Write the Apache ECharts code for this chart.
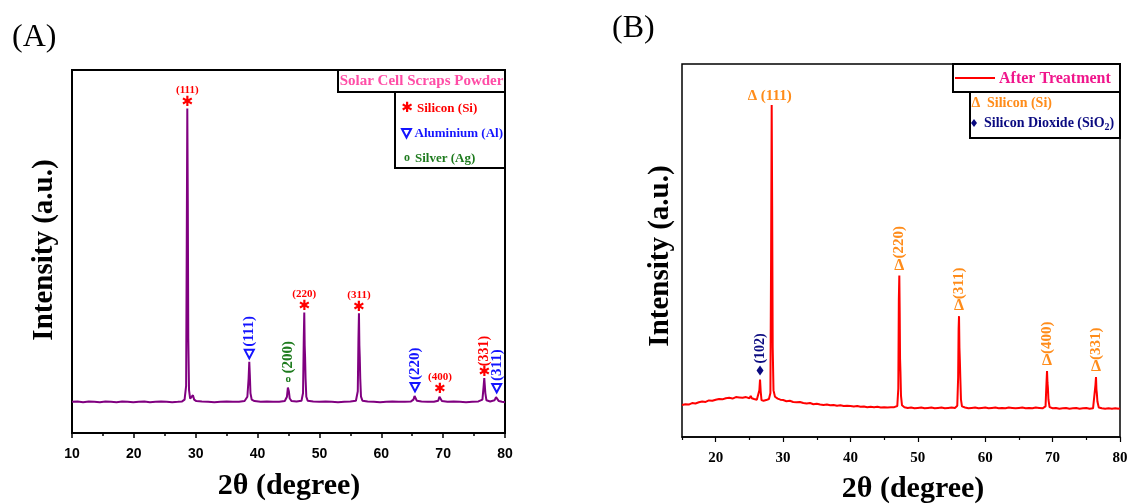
<!DOCTYPE html>
<html><head><meta charset="utf-8">
<script src="https://cdn.jsdelivr.net/npm/echarts@6/dist/echarts.min.js"></script>
<style>html,body{margin:0;padding:0;background:#fff}#c{width:1127px;height:504px}</style>
</head><body><div id="c"></div>
<script>
// ---------- data ----------
const ticksA = [10, 20, 30, 40, 50, 60, 70, 80];
const ticksB = [20, 30, 40, 50, 60, 70, 80];
const minorTicksB = [15, 25, 35, 45, 55, 65, 75];

const twoThetaA = [10.0,10.9,11.8,12.7,13.6,14.5,15.4,16.3,17.2,18.1,19.0,19.9,20.8,21.7,22.6,23.5,24.4,25.3,26.2,27.1,27.8,28.2,28.45,28.55,28.64,28.72,28.8,28.92,29.1,29.4,29.55,29.62,29.75,30.1,31.0,32.0,33.0,34.0,35.0,36.0,37.0,37.9,38.35,38.55,38.66,38.75,38.85,39.05,39.5,40.5,41.5,42.5,43.5,44.4,44.75,44.9,44.97,45.06,45.2,45.5,46.3,47.1,47.35,47.47,47.55,47.62,47.68,47.76,47.88,48.1,49.0,50.0,51.0,52.0,53.0,54.0,55.0,55.9,56.2,56.31,56.39,56.46,56.52,56.6,56.72,56.95,57.8,58.8,59.8,60.8,61.8,62.8,63.8,64.8,65.2,65.38,65.45,65.55,65.75,66.5,67.5,68.5,69.2,69.4,69.49,69.58,69.8,70.7,71.7,72.7,73.7,74.7,75.7,76.35,76.55,76.65,76.72,76.82,77.0,77.6,78.3,78.55,78.66,78.78,79.0,79.5,80.0];
const intensityA = [86,87,85,87,86,85,87,86,85,87,86,85,86,87,85,86,87,86,85,86,87,92,130,520,894,640,260,118,95,96,104,105,92,88,87,86,85,86,87,86,86,88,100,150,196,160,110,92,88,86,87,86,86,88,100,125,128,115,95,88,87,89,110,260,332,240,210,150,100,89,87,86,87,86,85,86,87,89,115,260,330,240,210,150,100,89,87,86,85,86,87,86,86,87,92,102,105,98,89,87,86,86,89,100,103,97,88,86,87,86,85,86,87,92,130,151,135,110,90,87,90,99,102,96,88,86,85];

const twoThetaB = [15.0,15.5,16.0,16.5,17.0,17.5,18.0,18.5,19.0,19.5,20.0,20.5,21.0,21.5,22.0,22.5,23.0,23.5,24.0,24.5,25.0,25.2,25.35,25.7,26.1,26.35,26.48,26.58,26.68,26.8,27.1,27.5,27.9,28.12,28.22,28.31,28.38,28.46,28.58,28.8,29.2,29.6,30.0,30.5,31.0,31.5,32.0,32.5,33.0,33.5,34.0,34.5,35.0,35.5,36.0,36.5,37.0,37.5,38.0,38.5,39.0,39.5,40.0,40.5,41.0,41.5,42.0,42.5,43.0,43.5,44.0,44.5,45.0,45.5,46.0,46.5,46.95,47.1,47.18,47.25,47.31,47.36,47.42,47.5,47.65,48.0,48.5,49.0,49.5,50.0,50.5,51.0,51.5,52.0,52.5,53.0,53.5,54.0,54.5,55.0,55.5,55.85,55.98,56.05,56.11,56.17,56.23,56.3,56.4,56.55,57.0,57.5,58.0,58.5,59.0,59.5,60.0,60.5,61.0,61.5,62.0,62.5,63.0,63.5,64.0,64.5,65.0,65.5,66.0,66.5,67.0,67.5,68.0,68.5,68.95,69.08,69.17,69.24,69.3,69.38,69.55,70.0,70.5,71.0,71.5,72.0,72.5,73.0,73.5,74.0,74.5,75.0,75.5,76.0,76.25,76.36,76.44,76.5,76.56,76.65,76.85,77.3,77.8,78.3,78.8,79.3,79.8,80.0];
const intensityB = [86,88,87,91,90,93,95,94,98,97,100,102,101,104,105,103,107,106,105,107,104,110,104,102,100,101,125,154,122,99,97,99,102,118,480,890,620,240,125,108,103,100,99,96,97,94,93,94,91,90,91,88,89,87,86,87,85,86,84,85,83,84,83,82,83,81,82,80,81,80,81,79,80,79,80,80,83,130,370,433,330,210,175,110,85,80,78,79,77,78,79,77,78,79,77,78,79,77,78,79,78,84,160,290,324,240,208,160,100,82,79,77,78,79,77,78,79,77,78,79,77,78,77,79,78,77,78,79,77,78,77,79,78,77,82,140,177,145,132,100,80,77,78,76,77,78,76,77,78,76,77,78,76,77,82,140,161,128,118,95,79,77,76,77,76,77,76,77];

const peakThetaA = [28.64, 38.66, 44.97, 47.55, 56.39, 65.45, 69.49, 76.65, 78.66];
const peakIntA   = [894, 196, 128, 332, 330, 105, 103, 151, 102];
const peakHklA   = ['(111)','(111)','(200)','(220)','(311)','(220)','(400)','(331)','(311)'];
const peakPhaseA = ['Si','Al','Ag','Si','Si','Al','Si','Si','Al'];

const peakThetaB = [26.58, 28.31, 47.25, 56.11, 69.17, 76.44];
const peakIntB   = [154, 890, 433, 324, 177, 161];
const peakHklB   = ['(102)','(111)','(220)','(311)','(400)','(331)'];
const peakPhaseB = ['SiO2','Si','Si','Si','Si','Si'];

const legendTitleA = 'Solar Cell Scraps Powder';
const legendA = ['Silicon (Si)', 'Aluminium (Al)', 'Silver (Ag)'];
const legendTitleB = 'After Treatment';
const legendB = ['Silicon (Si)', 'Silicon Dioxide (SiO', '2', ')'];
const axisTitleX = '2θ (degree)';
const axisTitleY = 'Intensity (a.u.)';

// ---------- style ----------
const SERIF = '"Liberation Serif"';
const RED = '#ff0000', BLUE = '#1414ff', GREEN = '#1e7b1e', PURPLE = '#800080';
const ORANGE = '#ff8c1a', NAVY = '#0a0a80', PINK = '#ff4da6', DEEPPINK = '#f0168c';
const STAR_FONT = 'bold 14px "DejaVu Sans"';

const zip = (xs, ys) => xs.map((x, i) => [x, ys[i]]);

function glyph(x, y, t, col, font) {
  return {type:'text', x, y, style:{text:t, fill:col, font, align:'center', verticalAlign:'middle'}};
}
function vlabel(x, y, t, col, font) {
  return {type:'text', x, y, rotation: Math.PI/2, style:{text:t, fill:col, font, align:'left', verticalAlign:'middle'}};
}
function downTri(x, y, col) {
  return {type:'polygon', shape:{points:[[x-4.5,y-4],[x+4.5,y-4],[x,y+4.5]]}, style:{fill:'#fff', stroke:col, lineWidth:2}};
}
function diamond(x, y, col) {
  return {type:'polygon', shape:{points:[[x,y-5],[x+3.5,y],[x,y+5],[x-3.5,y]]}, style:{fill:col}};
}

function renderA(params, api) {
  const i = params.dataIndex;
  const p = api.coord([api.value(0), api.value(1)]);
  const phase = peakPhaseA[i], hkl = peakHklA[i];
  const x = p[0];
  const kids = [];
  if (phase === 'Si') {
    const my = p[1] - 6;
    kids.push(glyph(x, my, '✱', RED, STAR_FONT));
    if (hkl === '(331)') kids.push(vlabel(x, my - 6, hkl, RED, 'bold 14px ' + SERIF));
    else kids.push(glyph(x, my - 12, hkl, RED, 'bold 11px ' + SERIF));
  } else if (phase === 'Al') {
    const my = p[1] - 8;
    kids.push(downTri(x, my, BLUE));
    kids.push(vlabel(x, my - 7, hkl, BLUE, 'bold 15px ' + SERIF));
  } else {
    const my = p[1] - 7;
    kids.push(glyph(x, my, 'o', GREEN, 'bold 11px ' + SERIF));
    kids.push(vlabel(x, my - 6, hkl, GREEN, 'bold 15px ' + SERIF));
  }
  return {type:'group', children:kids};
}

function renderB(params, api) {
  const i = params.dataIndex;
  const p = api.coord([api.value(0), api.value(1)]);
  const phase = peakPhaseB[i], hkl = peakHklB[i];
  const x = p[0];
  const kids = [];
  if (phase === 'SiO2') {
    const my = p[1] - 9;
    kids.push(diamond(x, my, NAVY));
    kids.push(vlabel(x, my - 7, hkl, NAVY, 'bold 14px ' + SERIF));
  } else if (hkl === '(111)') {
    kids.push(glyph(x - 2, p[1] - 9, 'Δ ' + hkl, ORANGE, 'bold 15px ' + SERIF));
  } else {
    const my = p[1] - 10;
    kids.push(glyph(x, my, 'Δ', ORANGE, 'bold 16px ' + SERIF));
    kids.push(vlabel(x, my - 7, hkl, ORANGE, 'bold 15px ' + SERIF));
  }
  return {type:'group', children:kids};
}

const chart = echarts.init(document.getElementById('c'), null, {renderer:'canvas'});

const yAxisCommon = {type:'value', min:0, max:1000, axisLine:{show:false}, axisTick:{show:false}, axisLabel:{show:false}, splitLine:{show:false}};

const legendRowFont = 'bold 13px ' + SERIF;

chart.setOption({
  animation:false,
  backgroundColor:'#fff',
  grid:[
    {left:72, top:70, width:433, height:363, show:true, borderColor:'#000', borderWidth:2, containLabel:false, outerBoundsMode:'none'},
    {left:682, top:64, width:438, height:373, show:true, borderColor:'#000', borderWidth:1.5, containLabel:false, outerBoundsMode:'none'}
  ],
  xAxis:[
    {gridIndex:0, type:'value', min:ticksA[0], max:ticksA[ticksA.length-1], interval:10,
     axisLine:{lineStyle:{color:'#000', width:2}},
     axisTick:{inside:false, length:5, lineStyle:{color:'#000', width:1.5}},
     minorTick:{show:true, splitNumber:2, length:3, lineStyle:{color:'#000', width:1.5}},
     axisLabel:{color:'#000', fontFamily:'Liberation Sans', fontWeight:'bold', fontSize:14, margin:14},
     splitLine:{show:false}},
    {gridIndex:1, type:'value', min:15, max:80,
     axisLine:{lineStyle:{color:'#000', width:1.5}},
     axisTick:{inside:false, length:5, customValues:ticksB, lineStyle:{color:'#000', width:1.2}},
     axisLabel:{customValues:ticksB, color:'#000', fontFamily:'Liberation Serif', fontWeight:'bold', fontSize:15, margin:14},
     splitLine:{show:false}},
    {gridIndex:1, type:'value', min:15, max:80, position:'bottom',
     axisLine:{show:false},
     axisTick:{inside:false, length:3, customValues:minorTicksB, lineStyle:{color:'#000', width:1.2}},
     axisLabel:{show:false}, splitLine:{show:false}}
  ],
  yAxis:[
    Object.assign({gridIndex:0}, yAxisCommon),
    Object.assign({gridIndex:1}, yAxisCommon)
  ],
  series:[
    {type:'line', xAxisIndex:0, yAxisIndex:0, data:zip(twoThetaA, intensityA), showSymbol:false,
     lineStyle:{color:PURPLE, width:2}, z:2},
    {type:'line', xAxisIndex:1, yAxisIndex:1, data:zip(twoThetaB, intensityB), showSymbol:false,
     lineStyle:{color:RED, width:2}, z:2},
    {type:'custom', xAxisIndex:0, yAxisIndex:0, data:zip(peakThetaA, peakIntA), renderItem:renderA, clip:false, z:5},
    {type:'custom', xAxisIndex:1, yAxisIndex:1, data:zip(peakThetaB, peakIntB), renderItem:renderB, clip:false, z:5}
  ],
  graphic:{elements:[
    {type:'text', left:12, top:22, style:{text:'(A)', font:'32px ' + SERIF, fill:'#000'}},
    {type:'text', left:612, top:13, style:{text:'(B)', font:'32px ' + SERIF, fill:'#000'}},
    {type:'text', x:289, y:486, style:{text:axisTitleX, font:'bold 30px ' + SERIF, fill:'#000', align:'center', verticalAlign:'middle'}},
    {type:'text', x:913, y:489, style:{text:axisTitleX, font:'bold 30px ' + SERIF, fill:'#000', align:'center', verticalAlign:'middle'}},
    {type:'text', x:45, y:250, rotation:Math.PI/2, style:{text:axisTitleY, font:'bold 29px ' + SERIF, fill:'#000', align:'center', verticalAlign:'middle'}},
    {type:'text', x:661, y:256, rotation:Math.PI/2, style:{text:axisTitleY, font:'bold 29px ' + SERIF, fill:'#000', align:'center', verticalAlign:'middle'}},
    // legend A
    {type:'rect', shape:{x:338, y:70, width:167, height:22}, style:{fill:'#fff', stroke:'#000', lineWidth:2}, z:10},
    {type:'text', x:421.5, y:81.5, style:{text:legendTitleA, font:'bold 15px ' + SERIF, fill:PINK, align:'center', verticalAlign:'middle'}, z:11},
    {type:'rect', shape:{x:395, y:92, width:110, height:76}, style:{fill:'#fff', stroke:'#000', lineWidth:2}, z:10},
    {type:'text', x:407, y:108, style:{text:'✱', font:STAR_FONT, fill:RED, align:'center', verticalAlign:'middle'}, z:11},
    {type:'text', x:417, y:108.5, style:{text:legendA[0], font:legendRowFont, fill:RED, align:'left', verticalAlign:'middle'}, z:11},
    {type:'polygon', shape:{points:[[402,129],[411,129],[406.5,137.5]]}, style:{fill:'#fff', stroke:BLUE, lineWidth:2}, z:11},
    {type:'text', x:414.5, y:133.5, style:{text:legendA[1], font:legendRowFont, fill:BLUE, align:'left', verticalAlign:'middle'}, z:11},
    {type:'text', x:407, y:158, style:{text:'o', font:'bold 12px ' + SERIF, fill:GREEN, align:'center', verticalAlign:'middle'}, z:11},
    {type:'text', x:415, y:158.5, style:{text:legendA[2], font:legendRowFont, fill:GREEN, align:'left', verticalAlign:'middle'}, z:11},
    // legend B
    {type:'rect', shape:{x:953, y:64, width:167, height:28}, style:{fill:'#fff', stroke:'#000', lineWidth:2}, z:10},
    {type:'line', shape:{x1:955, y1:78, x2:995, y2:78}, style:{stroke:RED, lineWidth:2}, z:11},
    {type:'text', x:999, y:78.5, style:{text:legendTitleB, font:'bold 16px ' + SERIF, fill:DEEPPINK, align:'left', verticalAlign:'middle'}, z:11},
    {type:'rect', shape:{x:970, y:92, width:150, height:46}, style:{fill:'#fff', stroke:'#000', lineWidth:2}, z:10},
    {type:'text', x:976, y:103, style:{text:'Δ', font:'bold 14px ' + SERIF, fill:ORANGE, align:'center', verticalAlign:'middle'}, z:11},
    {type:'text', x:987, y:103.5, style:{text:legendB[0], font:'bold 14px ' + SERIF, fill:ORANGE, align:'left', verticalAlign:'middle'}, z:11},
    {type:'polygon', shape:{points:[[974,119],[977,123],[974,127],[971,123]]}, style:{fill:NAVY}, z:11}
  ]}
});

// SiO2 legend text with subscript, placed using measured widths
(function(){
  const ctx = document.createElement('canvas').getContext('2d');
  ctx.font = 'bold 14px "Liberation Serif"';
  const w1 = ctx.measureText(legendB[1]).width;
  ctx.font = 'bold 10px "Liberation Serif"';
  const w2 = ctx.measureText(legendB[2]).width;
  const x0 = 984;
  chart.setOption({graphic:{elements:[
    {id:'sio2a', type:'text', x:x0, y:123.5, style:{text:legendB[1], font:'bold 14px "Liberation Serif"', fill:NAVY, align:'left', verticalAlign:'middle'}, z:11},
    {id:'sio2b', type:'text', x:x0 + w1, y:127.5, style:{text:legendB[2], font:'bold 10px "Liberation Serif"', fill:NAVY, align:'left', verticalAlign:'middle'}, z:11},
    {id:'sio2c', type:'text', x:x0 + w1 + w2, y:123.5, style:{text:legendB[3], font:'bold 14px "Liberation Serif"', fill:NAVY, align:'left', verticalAlign:'middle'}, z:11}
  ]}});
})();
</script>
</body></html>
